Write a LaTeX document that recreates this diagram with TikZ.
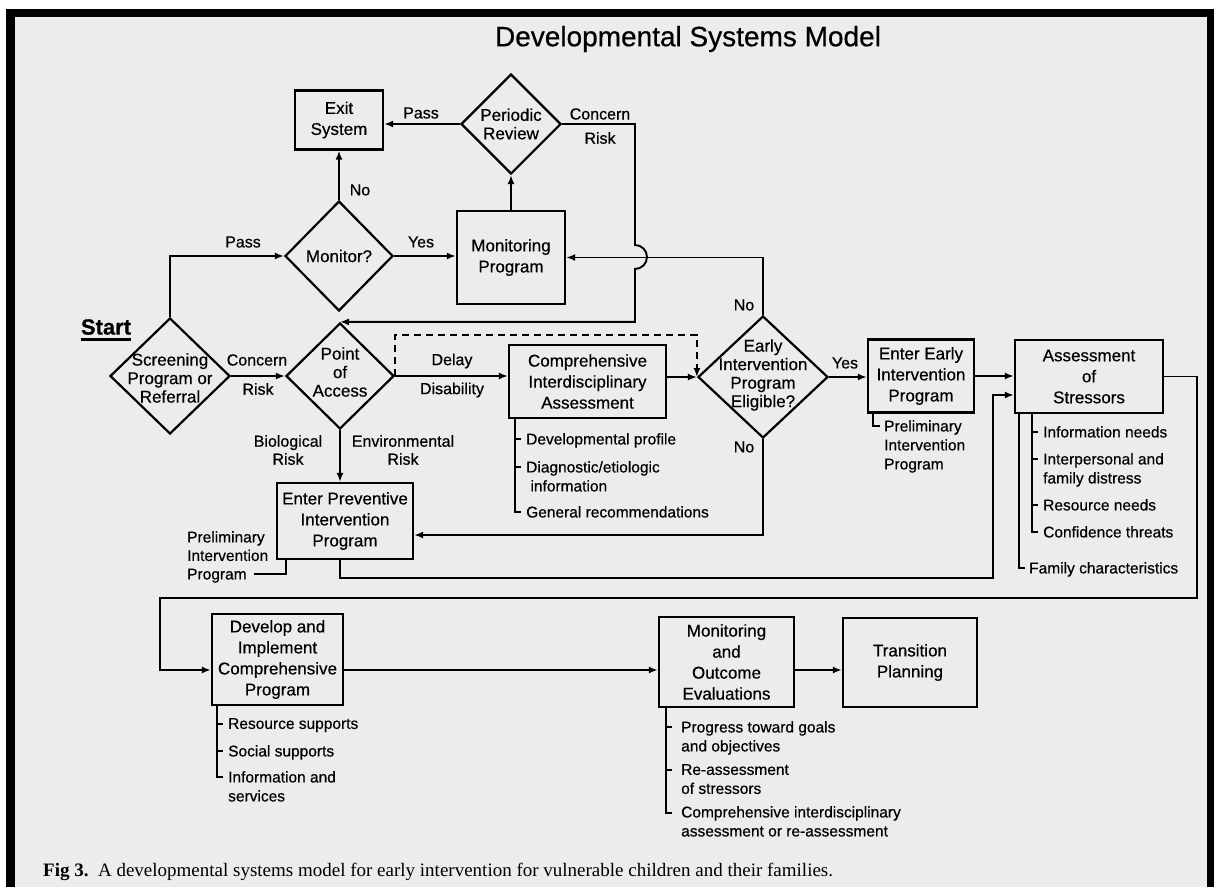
\documentclass[tikz,border=0pt]{standalone}
\usepackage{fontspec}
\setmainfont{Liberation Sans}[FakeBold=0.5]
\newfontfamily\capfont{Liberation Serif}
\usetikzlibrary{shapes.geometric,arrows.meta,calc}
\definecolor{bg}{RGB}{236,236,236}
\tikzset{
  box/.style={draw, line width=2.3pt, align=center, inner sep=0pt, font=\fontsize{17}{21}\selectfont},
  dia/.style={draw, diamond, line width=2.2pt, inner sep=0pt},
  dtxt/.style={align=center, inner sep=0pt, font=\fontsize{17}{18.5}\selectfont},
  lbl/.style={inner sep=0pt, align=center, font=\fontsize{16}{18}\selectfont},
  bulltxt/.style={inner sep=0pt, anchor=north west, align=left, font=\fontsize{15.5}{19}\selectfont},
  conn/.style={line width=1.9pt},
  arr/.style={conn, -{Latex[length=9pt,width=7pt]}},
}
\begin{document}
\begin{tikzpicture}[x=1pt,y=-1pt]
\useasboundingbox (0,0) rectangle (1215,887);
\fill[white] (0,0) rectangle (1215,887);
\fill[black] (6,9) rectangle (1214,887);
\fill[bg] (15,17) rectangle (1207,887);

\node[font=\fontsize{28}{30}\selectfont, inner sep=0pt] (title) at (688,39) {Developmental Systems Model};

% nodes
\node[box, minimum width=88pt, minimum height=59pt] (exit) at (339,120) {Exit\\System};
\node[dia, minimum width=100pt, minimum height=100pt] (per) at (511,124) {};
\node[dtxt] (pert) at (511,124) {Periodic\\Review};
\node[dia, minimum width=108pt, minimum height=110pt] (mnt) at (339,256) {};
\node[dtxt] (mntt) at (339,256) {Monitor?};
\node[box, minimum width=108pt, minimum height=93pt] (mon) at (511,257.5) {Monitoring\\Program};
\node[dia, minimum width=120pt, minimum height=116pt] (scr) at (170,376) {};
\node[dtxt] (scrt) at (170,378) {Screening\\Program or\\Referral};
\node[dia, minimum width=108pt, minimum height=106pt] (poa) at (340,376) {};
\node[dtxt] (poat) at (340,372) {Point\\of\\Access};
\node[box, minimum width=157pt, minimum height=73pt] (cia) at (587.5,381.5) {Comprehensive\\Interdisciplinary\\Assessment};
\node[dia, minimum width=130pt, minimum height=122pt] (ei) at (763,377) {};
\node[dtxt] (eit) at (763,375) {Early\\Intervention\\Program\\Eligible?};
\node[box, minimum width=106pt, minimum height=73pt] (eie) at (921,376) {Enter Early\\Intervention\\Program};
\node[box, minimum width=148pt, minimum height=73pt] (asm) at (1089,376.5) {Assessment\\of\\Stressors};
\node[box, minimum width=136pt, minimum height=76pt] (prev) at (345,521) {Enter Preventive\\Intervention\\Program};
\node[box, minimum width=131pt, minimum height=91pt] (dev) at (277.5,659.5) {Develop and\\Implement\\Comprehensive\\Program};
\node[box, minimum width=135pt, minimum height=90pt] (moe) at (726.5,662) {Monitoring\\and\\Outcome\\Evaluations};
\node[box, minimum width=134pt, minimum height=89pt] (tp) at (910,662.5) {Transition\\Planning};

% start
\node[font=\bfseries\fontsize{22}{24}\selectfont, inner sep=0pt] (start) at (106,327) {Start};
\draw[line width=2.2pt] ([yshift=-5pt]start.base west) -- ([yshift=-5pt]start.base east);

% labels
\node[lbl] (lpass1) at (421,113) {Pass};
\node[lbl] (lconc1) at (600,114) {Concern};
\node[lbl] (lrisk1) at (600,138) {Risk};
\node[lbl] (lno1) at (360,190) {No};
\node[lbl] (lpass2) at (243,242) {Pass};
\node[lbl] (lyes1) at (421,242) {Yes};
\node[lbl] (lconc2) at (257,360) {Concern};
\node[lbl] (lrisk2) at (258,389) {Risk};
\node[lbl] (ldelay) at (452,361) {Delay};
\node[lbl] (ldis) at (452,390) {Disability};
\node[lbl] (lno2) at (744,305) {No};
\node[lbl] (lyes2) at (845,363) {Yes};
\node[lbl] (lbio) at (288,450) {Biological\\Risk};
\node[lbl] (lenv) at (403,450) {Environmental\\Risk};
\node[lbl] (lno3) at (744,447) {No};

% connectors
\draw[arr] (scr.north) |- (mnt.west);
\draw[arr] (mnt.east) -- (mnt.east -| mon.west);
\draw[arr] (mnt.north) -- (mnt.north |- exit.south);
\draw[arr] (mon.north) -- (per.south);
\draw[arr] (per.west) -- (per.west -| exit.east);
\draw[arr] (per.east) -- (635,124) -- (635,245) arc[start angle=90,end angle=-90,radius=12pt] |- (poa.north);
\draw[arr] (ei.north) |- (mon.east);
\draw[arr] (scr.east) -- (poa.west);
\draw[arr] (poa.east) -- (poa.east -| cia.west);
\draw[arr, dash pattern=on 7pt off 5pt] (poa.east) -- (poa.east |- 0,335) -| (ei.west);
\draw[arr] (ei.west -| cia.east) -- (ei.west);
\draw[arr] (ei.east) -- (ei.east -| eie.west);
\draw[arr] (eie.east) -- (eie.east -| asm.west);
\draw[arr] (poa.south) -- (poa.south |- prev.north);
\draw[arr] (ei.south) |- (prev.east |- 0,535);
\draw[arr] (poa.south |- prev.south) -- (340,578) -| (993,395) -- (asm.west |- 0,395);
\draw[arr] (asm.east) -| (1197,598) -| (160,670) -- (dev.west |- 0,670);
\draw[arr] (dev.east |- 0,670) -- (moe.west |- 0,670);
\draw[arr] (moe.east |- 0,670) -- (tp.west |- 0,670);

% CIA list
\draw[conn] (cia.south -| 515,0) -- (515,512) -- (521,512);
\draw[conn] (515,439) -- (521,439);
\draw[conn] (515,467) -- (521,467);
\node[bulltxt] (c1) at (526,433) {Developmental profile};
\node[bulltxt] (c2) at (526,461) {Diagnostic/etiologic\\\ information};
\node[bulltxt] (c3) at (526,506) {General recommendations};

% Enter early list
\draw[conn] (eie.south -| 873,0) -- (873,426) -- (880,426);
\node[bulltxt] (e1) at (884,420) {Preliminary\\Intervention\\Program};

% Assessment lists
\draw[conn] (asm.south -| 1019,0) -- (1019,568) -- (1025,568);
\draw[conn] (asm.south -| 1032,0) -- (1032,532) -- (1038,532);
\draw[conn] (1032,432) -- (1038,432);
\draw[conn] (1032,459) -- (1038,459);
\draw[conn] (1032,505) -- (1038,505);
\node[bulltxt] (a1) at (1043,426) {Information needs};
\node[bulltxt] (a2) at (1043,453) {Interpersonal and\\family distress};
\node[bulltxt] (a3) at (1043,499) {Resource needs};
\node[bulltxt] (a4) at (1043,526) {Confidence threats};
\node[bulltxt] (a5) at (1029,562) {Family characteristics};

% Preventive list
\draw[conn] (prev.south -| 286,0) -- (286,574) -- (254,574);
\node[bulltxt, font=\fontsize{15.5}{18.5}\selectfont] (p1) at (187,531) {Preliminary\\Intervention\\Program};

% Develop list
\draw[conn] (dev.south -| 217,0) -- (217,777) -- (223,777);
\draw[conn] (217,724) -- (223,724);
\draw[conn] (217,751) -- (223,751);
\node[bulltxt] (d1) at (228,718) {Resource supports};
\node[bulltxt] (d2) at (228,745) {Social supports};
\node[bulltxt] (d3) at (228,771) {Information and\\services};

% Monitoring & outcome list
\draw[conn] (moe.south -| 666,0) -- (666,813) -- (672,813);
\draw[conn] (666,727) -- (672,727);
\draw[conn] (666,770) -- (672,770);
\node[bulltxt] (m1) at (681,721) {Progress toward goals\\and objectives};
\node[bulltxt] (m2) at (681,764) {Re-assessment\\of stressors};
\node[bulltxt] (m3) at (681,806) {Comprehensive interdisciplinary\\assessment or re-assessment};

% caption
\node[anchor=west, inner sep=0pt, font=\capfont\fontsize{19}{21}\selectfont] (cap) at (43,872) {\textbf{Fig 3.}\ \ A developmental systems model for early intervention for vulnerable children and their families.};
\end{tikzpicture}
\end{document}
